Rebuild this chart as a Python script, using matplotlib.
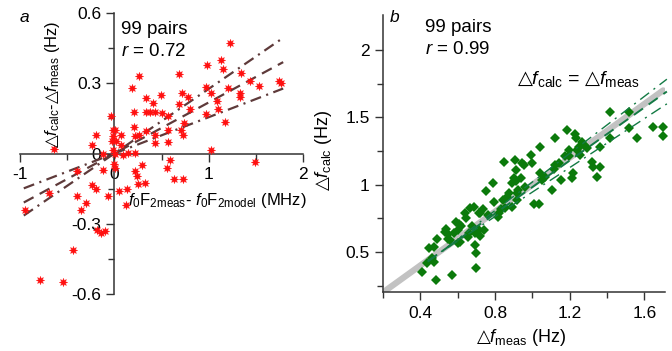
import matplotlib
matplotlib.use("Agg")
import numpy as np
import matplotlib.pyplot as plt
from matplotlib.ticker import FixedLocator, FuncFormatter

plt.rcParams["font.family"] = ["Liberation Sans", "DejaVu Sans"]
plt.rcParams["mathtext.fontset"] = "custom"
plt.rcParams["mathtext.rm"] = "Liberation Sans"
plt.rcParams["mathtext.it"] = "Liberation Sans:italic"
plt.rcParams["mathtext.sf"] = "DejaVu Sans"   # only used for the triangle sign
plt.rcParams["lines.scale_dashes"] = False

# panel a: f0F2 deviation (MHz) vs frequency deviation (Hz)
a_x = [-0.95, -0.69, -0.79, -0.54, -0.44, -0.40, -0.40, -0.35, -0.30, -0.64,
       -0.24, -0.24, -0.19, -0.18, -0.14, -0.10, -0.19, -0.12, -0.12, -0.07,
       -0.035, -0.01, 0.01, -0.02, 0.02, -0.01, 0.0, 0.01, 0.045, 0.07,
       0.07, 0.09, 0.14, 0.13, 0.12, 0.19, 0.26, 0.21, 0.21, 0.215,
       0.26, 0.22, 0.24, 0.25, 0.32, 0.22, 0.29, 0.34, 0.41, 0.34,
       0.38, 0.43, 0.50, 0.49, 0.34, 0.43, 0.43, 0.57, 0.57, 0.57,
       0.59, 0.56, 0.63, 0.73, 0.69, 0.69, 0.72, 0.78, 0.71, 0.73,
       0.74, 0.80, 0.98, 0.97, 1.13, 1.15, 1.23, 1.34, 1.21, 1.44,
       1.53, 1.75, 1.77, 1.03, 1.33, 1.33, 1.09, 1.10, 0.97, 1.17,
       1.02, 1.49, 0.01, -0.01]
a_y = [-0.24, -0.17, -0.54, -0.55, -0.41, -0.075, -0.18, -0.24, -0.21, 0.02,
       0.035, -0.135, -0.15, -0.325, -0.34, -0.33, 0.08, 0.0, -0.07, -0.18,
       0.16, 0.10, 0.10, 0.053, 0.055, 0.017, -0.044, -0.06, -0.16, 0.08,
       0.038, -0.005, 0.003, -0.15, -0.22, 0.28, 0.33, 0.177, 0.112, 0.074,
       0.08, 0.003, -0.097, -0.13, -0.125, -0.075, -0.047, 0.238, 0.214, 0.176,
       0.176, 0.176, 0.174, 0.25, 0.095, 0.081, 0.046, 0.16, 0.10, 0.05,
       -0.026, -0.064, -0.107, -0.107, 0.34, 0.21, 0.26, 0.24, 0.10, 0.081,
       0.13, 0.19, 0.38, 0.285, 0.40, 0.36, 0.47, 0.345, 0.278, 0.31,
       0.288, 0.31, 0.30, 0.26, 0.26, 0.24, 0.224, 0.19, 0.17, 0.135,
       0.013, -0.037, -0.004, 0.074]
a_slopes = [0.276, 0.218, 0.155]
a_styles = ["dashdot", "dashed", "dashdot"]
a_line_x = [-0.96, 1.79]

# panel b: calculated vs measured frequency deviation (Hz)
b_x = [0.41, 0.434, 0.444, 0.462, 0.475, 0.475, 0.484, 0.49, 0.533, 0.54,
       0.546, 0.56, 0.57, 0.58, 0.59, 0.60, 0.60, 0.617, 0.64, 0.643,
       0.66, 0.665, 0.688, 0.693, 0.693, 0.697, 0.70, 0.715, 0.715, 0.736,
       0.75, 0.76, 0.79, 0.795, 0.818, 0.82, 0.84, 0.848, 0.853, 0.866,
       0.875, 0.889, 0.893, 0.90, 0.907, 0.91, 0.92, 0.925, 0.937, 0.942,
       0.955, 0.963, 0.99, 1.0, 1.007, 1.035, 1.04, 1.04, 1.05, 1.067,
       1.105, 1.115, 1.12, 1.12, 1.14, 1.155, 1.173, 1.186, 1.195, 1.195,
       1.21, 1.22, 1.23, 1.234, 1.24, 1.25, 1.257, 1.266, 1.275, 1.292,
       1.32, 1.325, 1.346, 1.364, 1.364, 1.417, 1.417, 1.515, 1.515, 1.56,
       1.648, 1.70, 1.70, 0.55, 0.605, 0.61, 0.653, 0.676, 0.717, 0.74,
       0.72, 0.83, 0.92, 0.91]
b_y = [0.354, 0.416, 0.527, 0.453, 0.428, 0.54, 0.292, 0.594, 0.65, 0.668,
       0.594, 0.59, 0.33, 0.64, 0.725, 0.66, 0.57, 0.693, 0.787, 0.75,
       0.64, 0.824, 0.836, 0.64, 0.55, 0.378, 0.49, 0.66, 0.787, 0.817,
       0.95, 0.775, 1.01, 0.874, 0.762, 0.787, 0.886, 1.17, 0.824, 0.911,
       0.936, 1.01, 0.836, 1.047, 1.18, 1.11, 0.886, 0.96, 1.047, 1.16,
       1.146, 0.985, 1.22, 1.16, 0.86, 0.86, 1.084, 1.28, 1.035, 1.06,
       0.96, 1.12, 1.344, 1.146, 1.16, 1.035, 1.21, 1.406, 1.257, 1.21,
       1.047, 1.084, 1.38, 1.344, 1.257, 1.28, 1.22, 1.32, 1.295, 1.27,
       1.17, 1.134, 1.06, 1.28, 1.134, 1.54, 1.344, 1.54, 1.42, 1.344,
       1.43, 1.43, 1.36, 0.63, 0.71, 0.577, 0.61, 0.69, 0.62, 0.66,
       0.787, 0.82, 0.935, 1.03]
b_line_x = [0.44, 1.72]
b_pivot = (0.5, 0.49)
b_slopes = [1.06, 0.985, 0.91]
b_styles = ["dashdot", "dashed", "dashdot"]

W, H = 672, 351
fig = plt.figure(figsize=(W / 100, H / 100), dpi=100)


def ft(px, py, s, **kw):
    fig.text(px / W, 1 - py / H, s, **kw)


def fmt(v, pos):
    return "%g" % round(v, 2)


def style_axes(ax):
    for s in ["top", "right"]:
        ax.spines[s].set_visible(False)
    for s in ["left", "bottom"]:
        ax.spines[s].set_color("#333333")
        ax.spines[s].set_linewidth(1.1)
    ax.tick_params(which="both", direction="out", colors="#333333", labelsize=12.5,
                   labelcolor="black", width=1.0)
    ax.tick_params(which="major", length=6)
    ax.tick_params(which="minor", length=4)
    ax.xaxis.set_major_formatter(FuncFormatter(fmt))
    ax.yaxis.set_major_formatter(FuncFormatter(fmt))
    ax.patch.set_alpha(0)


dash_map = {"dashdot": (0, (8, 4, 1.5, 4)), "dashed": (0, (8, 5))}
TRI = "$\\mathsf{\u25b3}$"
DF_CALC = TRI + "$\\mathit{f}_{\\mathrm{calc}}$"
DF_MEAS = TRI + "$\\mathit{f}_{\\mathrm{meas}}$"

# ---- panel a
axa = fig.add_axes([20 / W, (H - 294) / H, 283 / W, 281 / H])
axa.set_xlim(-1, 2)
axa.set_ylim(-0.6, 0.6)
style_axes(axa)
axa.spines["left"].set_position(("data", 0))
axa.spines["bottom"].set_position(("data", 0))
axa.xaxis.set_major_locator(FixedLocator([-1, 0, 1, 2]))
axa.xaxis.set_minor_locator(FixedLocator([-0.5, 0.5, 1.5]))
axa.yaxis.set_major_locator(FixedLocator([-0.6, -0.3, 0, 0.3, 0.6]))
axa.yaxis.set_minor_locator(FixedLocator([-0.45, -0.15, 0.15, 0.45]))

lx = np.array(a_line_x)
for k, st in zip(a_slopes, a_styles):
    axa.plot(lx, k * lx, color="#5e3a3a", lw=1.6, linestyle=dash_map[st], zorder=3)
axa.plot(a_x, a_y, linestyle="none", marker=(8, 1, 0), markersize=6,
         color="#ff1010", markeredgewidth=0.3, markeredgecolor="#ff1010",
         zorder=4, clip_on=False)

# ---- panel b
axb = fig.add_axes([383 / W, (H - 292.4) / H, 282 / W, 277.4 / H])
axb.set_xlim(0.2, 1.71)
axb.set_ylim(0.2, 2.26)
style_axes(axb)
axb.xaxis.set_major_locator(FixedLocator([0.4, 0.8, 1.2, 1.6]))
axb.xaxis.set_minor_locator(FixedLocator([0.2, 0.6, 1.0, 1.4]))
axb.yaxis.set_major_locator(FixedLocator([0.5, 1, 1.5, 2]))
axb.yaxis.set_minor_locator(FixedLocator([0.25, 0.75, 1.25, 1.75]))

axb.plot([0.2, 1.7], [0.2, 1.7], color="#c2c2c2", lw=4.5, solid_capstyle="round", zorder=2)
axb.plot(b_x, b_y, linestyle="none", marker="D", markersize=5.5,
         color="#0b7a0b", markeredgewidth=0, zorder=3, clip_on=False)
lx = np.array(b_line_x)
for k, st in zip(b_slopes, b_styles):
    lw = 1.0 if st == "dashdot" else 1.4
    axb.plot(lx, b_pivot[1] + k * (lx - b_pivot[0]), color="#137a44", lw=lw,
             linestyle=dash_map[st], zorder=4, clip_on=False)

# ---- texts
ft(24, 17, "a", fontsize=12.5, style="italic", ha="center", va="center")
ft(395, 18, "b", fontsize=12.5, style="italic", ha="center", va="center")
ft(121, 30, "99 pairs", fontsize=13.5, ha="left", va="center")
ft(121, 51, "$\\mathit{r}$ = 0.72", fontsize=13.5, ha="left", va="center")
ft(425, 28, "99 pairs", fontsize=13.5, ha="left", va="center")
ft(425, 49, "$\\mathit{r}$ = 0.99", fontsize=13.5, ha="left", va="center")
ft(517, 79, DF_CALC + " = " + DF_MEAS, fontsize=14, ha="left", va="center")
ft(52, 84, DF_CALC + "-" + DF_MEAS + " (Hz)",
   fontsize=12, rotation=90, ha="center", va="center")
ft(217, 201, "$\\mathit{f}_0\\mathrm{F}_{2\\mathrm{meas}}$- $\\mathit{f}_0\\mathrm{F}_{2\\mathrm{model}}$ (MHz)",
   fontsize=12, ha="center", va="center")
ft(323, 150, DF_CALC + " (Hz)", fontsize=13, rotation=90,
   ha="center", va="center")
ft(521, 337, DF_MEAS + " (Hz)", fontsize=13, ha="center", va="center")

fig.savefig("out.png", dpi=100)
